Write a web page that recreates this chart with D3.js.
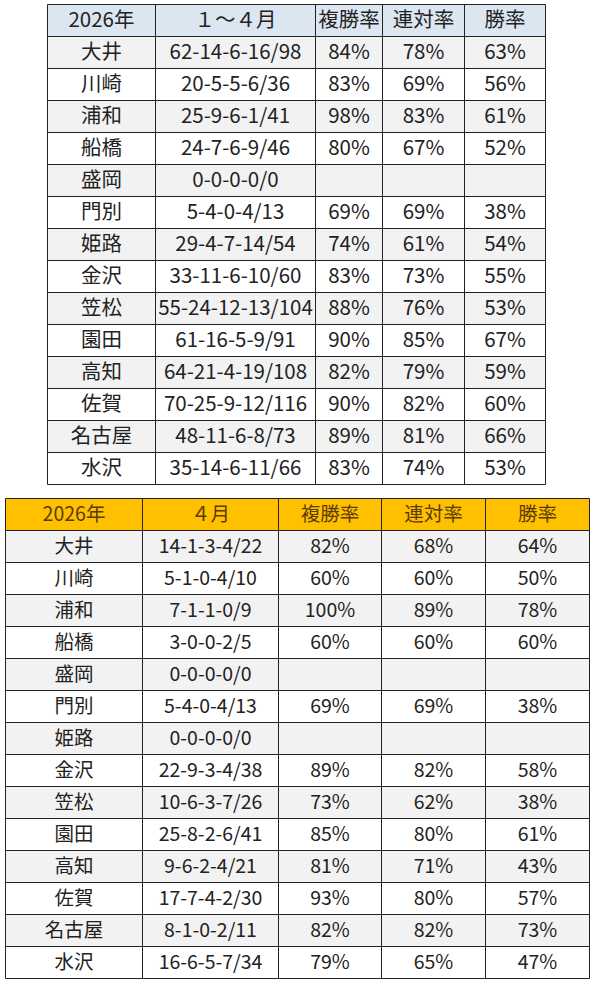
<!DOCTYPE html><html><head><meta charset="utf-8"><script src="https://cdn.jsdelivr.net/npm/d3@7"></script>
<style>body{margin:0;background:#fff}</style></head><body><svg id="c" width="594" height="985"></svg><script>
const venues=["大井","川崎","浦和","船橋","盛岡","門別","姫路","金沢","笠松","園田","高知","佐賀","名古屋","水沢"];
const header1=["2026年","１～４月","複勝率","連対率","勝率"];
const rec1=["62-14-6-16/98","20-5-5-6/36","25-9-6-1/41","24-7-6-9/46","0-0-0-0/0","5-4-0-4/13","29-4-7-14/54","33-11-6-10/60","55-24-12-13/104","61-16-5-9/91","64-21-4-19/108","70-25-9-12/116","48-11-6-8/73","35-14-6-11/66"];
const show1=["84%","83%","98%","80%","","69%","74%","83%","88%","90%","82%","90%","89%","83%"];
const ren1=["78%","69%","83%","67%","","69%","61%","73%","76%","85%","79%","82%","81%","74%"];
const win1=["63%","56%","61%","52%","","38%","54%","55%","53%","67%","59%","60%","66%","53%"];
const header2=["2026年","４月","複勝率","連対率","勝率"];
const rec2=["14-1-3-4/22","5-1-0-4/10","7-1-1-0/9","3-0-0-2/5","0-0-0-0/0","5-4-0-4/13","0-0-0-0/0","22-9-3-4/38","10-6-3-7/26","25-8-2-6/41","9-6-2-4/21","17-7-4-2/30","8-1-0-2/11","16-6-5-7/34"];
const show2=["82%","60%","100%","60%","","69%","","89%","73%","85%","81%","93%","82%","79%"];
const ren2=["68%","60%","89%","60%","","69%","","82%","62%","80%","71%","80%","82%","65%"];
const win2=["64%","50%","78%","60%","","38%","","58%","38%","61%","43%","57%","73%","47%"];
const svg=d3.select("#c");
function table(id,xs,y0,header,cols,hfill,hcolor,fs){
  const rows=[header].concat(venues.map((v,i)=>[v].concat(cols.map(c=>c[i]))));
  const y=d3.scaleBand().domain(d3.range(rows.length)).range([y0,y0+32*rows.length]);
  const g=svg.append("g");
  rows.forEach((r,ri)=>{
    r.forEach((t,ci)=>{
      const x0=xs[ci],x1=xs[ci+1];
      const cid=id+"_"+ri+"_"+ci;
      g.append("clipPath").attr("id",cid).append("rect").attr("x",x0).attr("y",y(ri)).attr("width",x1-x0).attr("height",y.bandwidth());
      g.append("rect").attr("x",x0).attr("y",y(ri)).attr("width",x1-x0).attr("height",y.bandwidth())
        .attr("fill",ri==0?hfill:(ri%2==1?"#f2f2f2":"#fff"));
      g.append("text").attr("clip-path","url(#"+cid+")").attr("x",(x0+x1)/2).attr("y",y(ri)+y.bandwidth()/2+1)
        .attr("text-anchor","middle").attr("dominant-baseline","middle")
        .attr("font-family","'Noto Sans CJK JP',sans-serif").attr("font-size",fs)
        .attr("fill",ri==0?hcolor:"#222").text(t);
    });
  });
  rows.forEach((r,ri)=>g.append("line").attr("x1",xs[0]).attr("x2",xs[xs.length-1]).attr("y1",y(ri)).attr("y2",y(ri)).attr("stroke","#222"));
  g.append("line").attr("x1",xs[0]).attr("x2",xs[xs.length-1]).attr("y1",y0+32*rows.length).attr("y2",y0+32*rows.length).attr("stroke","#222");
  xs.forEach(x=>g.append("line").attr("x1",x).attr("x2",x).attr("y1",y0).attr("y2",y0+32*rows.length).attr("stroke","#222"));
}
table("a",[47.5,155.5,315.5,382.5,464.5,545.5],4.5,header1,[rec1,show1,ren1,win1],"#dce6f1","#222",20.5);
table("b",[5.5,142.5,278.5,381.5,485.5,589.5],498.5,header2,[rec2,show2,ren2,win2],"#ffc000","#5a3b00",19.5);
</script></body></html>
